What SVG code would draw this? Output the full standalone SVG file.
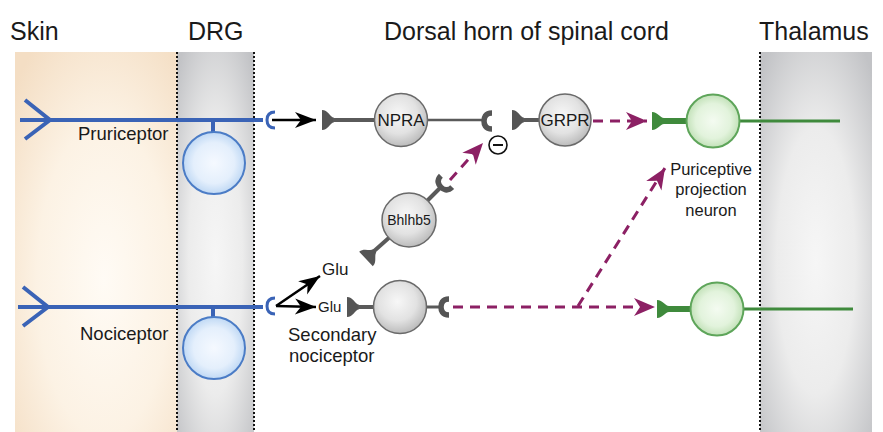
<svg xmlns="http://www.w3.org/2000/svg" width="883" height="432" viewBox="0 0 883 432">
<style>
text{font-family:"Liberation Sans",Arial,sans-serif;fill:#1a1a1a}
.hdr{font-size:25px}
.lbl{font-size:18.5px}
.in{font-size:17px;text-anchor:middle}
.dot{stroke:#111;stroke-width:2;stroke-dasharray:2 2;fill:none}
.ax{stroke:#3a63b6;stroke-width:4;fill:none}
.gl{stroke:#5a5a5a;fill:none}
.pd{stroke:#8c2064;stroke-width:3;stroke-dasharray:10 7;fill:none}
.gr{stroke:#3f8a3c;fill:none}
.cupg{stroke:#555;stroke-width:5.5;fill:none}
.cupb{stroke:#3a63b6;stroke-width:3;fill:none}
.gn{fill:url(#gGray);stroke:#6a6a6a;stroke-width:1.5}
.bn{fill:url(#gBlue);stroke:#4b7cc6;stroke-width:2}
.grn{fill:url(#gGreen);stroke:#5ea55a;stroke-width:2}
</style>
<defs>
<radialGradient id="gSkin" cx="55%" cy="60%" r="75%">
<stop offset="0" stop-color="#fffbf5"/><stop offset="0.55" stop-color="#fcf2e4"/><stop offset="1" stop-color="#f4dec4"/>
</radialGradient>
<radialGradient id="gPanel" cx="50%" cy="55%" r="70%" fx="50%" fy="55%">
<stop offset="0" stop-color="#f6f6f6"/><stop offset="0.5" stop-color="#ececec"/><stop offset="1" stop-color="#c2c3c6"/>
</radialGradient>
<radialGradient id="gGray" cx="45%" cy="40%" r="60%">
<stop offset="0" stop-color="#f7f7f7"/><stop offset="0.6" stop-color="#e2e2e2"/><stop offset="1" stop-color="#bcbcbc"/>
</radialGradient>
<radialGradient id="gBlue" cx="50%" cy="50%" r="55%">
<stop offset="0" stop-color="#f5f9ff"/><stop offset="0.6" stop-color="#e4effc"/><stop offset="1" stop-color="#b5d2f2"/>
</radialGradient>
<radialGradient id="gGreen" cx="50%" cy="50%" r="55%">
<stop offset="0" stop-color="#f4fbf1"/><stop offset="0.6" stop-color="#e2f3dc"/><stop offset="1" stop-color="#b9dcae"/>
</radialGradient>
<marker id="mBlk" markerUnits="userSpaceOnUse" markerWidth="24" markerHeight="20" viewBox="-21 -10 22 20" refX="0" refY="0" orient="auto">
<path d="M0,0 L-21,-8 L-15,0 L-21,8 Z" fill="#000"/>
</marker>
<marker id="mPur" markerUnits="userSpaceOnUse" markerWidth="24" markerHeight="22" viewBox="-21 -11 22 22" refX="0" refY="0" orient="auto">
<path d="M0,0 L-21,-9 L-15,0 L-21,9 Z" fill="#8c2064"/>
</marker>
<path id="dG" d="M0,-10 C6,-10 8,-3 12,-2.2 L12,2.2 C8,3 6,10 0,10 Z" fill="#555"/>
<path id="dGr" d="M0,-9 C6,-9 8,-3 12,-3 L12,3 C8,3 6,9 0,9 Z" fill="#3f8a3c"/>
<path id="cup" d="M5,-8 C-2,-8 -3,-3 -3,0 C-3,3 -2,8 5,8"/>
</defs>

<g id="regions">
<rect x="15" y="52" width="162" height="380" fill="url(#gSkin)"/>
<rect x="177" y="52" width="77" height="380" fill="url(#gPanel)"/>
<rect x="760" y="52" width="112" height="380" fill="url(#gPanel)"/>
<line class="dot" x1="177" y1="52" x2="177" y2="432"/>
<line class="dot" x1="254" y1="52" x2="254" y2="432"/>
<line class="dot" x1="760" y1="52" x2="760" y2="432"/>
</g>

<g id="headers">
<text class="hdr" x="10" y="40">Skin</text>
<text class="hdr" x="188" y="40">DRG</text>
<text class="hdr" x="384" y="40">Dorsal horn of spinal cord</text>
<text class="hdr" x="759" y="40">Thalamus</text>
</g>

<g id="pruriceptor">
<line class="ax" x1="20" y1="120" x2="263" y2="120"/>
<polyline class="ax" points="25,100 50,120 25,139"/>
<line class="ax" x1="213" y1="120" x2="213" y2="132" stroke-width="2.5"/>
<circle class="bn" cx="214" cy="163" r="31"/>
<use href="#cup" class="cupb" x="270" y="120"/>
<text class="lbl" x="78" y="140">Pruriceptor</text>
</g>

<g id="nociceptor">
<line class="ax" x1="18" y1="307" x2="263" y2="307"/>
<polyline class="ax" points="23,287 48,307 23,326"/>
<line class="ax" x1="213" y1="307" x2="213" y2="317" stroke-width="2.5"/>
<circle class="bn" cx="214" cy="348" r="31"/>
<use href="#cup" class="cupb" x="270" y="306"/>
<text class="lbl" x="80" y="340">Nociceptor</text>
</g>

<g id="npra">
<use href="#dG" x="322" y="120"/>
<line class="gl" x1="333" y1="120" x2="375" y2="120" stroke-width="4"/>
<line class="gl" x1="427" y1="120" x2="486" y2="120" stroke-width="2.5"/>
<circle class="gn" cx="401" cy="120" r="26.5"/>
<text class="in" x="401" y="126">NPRA</text>
<use href="#cup" class="cupg" x="487" y="121"/>
</g>

<g id="inhibit">
<circle cx="498" cy="145" r="9" fill="#fff" stroke="#111" stroke-width="1.6"/>
<line x1="493" y1="145" x2="503" y2="145" stroke="#111" stroke-width="2"/>
</g>

<g id="grpr">
<use href="#dG" x="512" y="120"/>
<line class="gl" x1="523" y1="120" x2="540" y2="120" stroke-width="4"/>
<circle class="gn" cx="565" cy="120" r="26"/>
<text class="in" x="565" y="126">GRPR</text>
</g>

<g id="bhlhb5">
<line class="gl" x1="373" y1="252" x2="391" y2="236" stroke-width="4"/>
<line class="gl" x1="427" y1="201" x2="441" y2="187" stroke-width="4"/>
<use href="#dG" transform="translate(366,259) rotate(-43)"/>
<circle class="gn" cx="409" cy="220" r="27"/>
<text x="409" y="225" style="font-size:14px;text-anchor:middle">Bhlhb5</text>
<use href="#cup" class="cupg" transform="translate(443,185) rotate(-45)"/>
</g>

<g id="secondary">
<use href="#dG" x="347" y="307"/>
<line class="gl" x1="358" y1="307" x2="374" y2="307" stroke-width="4"/>
<line class="gl" x1="426" y1="307" x2="442" y2="307" stroke-width="3"/>
<circle class="gn" cx="400" cy="307" r="26.5"/>
<use href="#cup" class="cupg" x="444" y="307"/>
<text class="lbl" x="288" y="341">Secondary</text>
<text class="lbl" x="289" y="362">nociceptor</text>
</g>

<g id="glu">
<text x="322" y="275" style="font-size:17px">Glu</text>
<text x="318" y="312" style="font-size:15px">Glu</text>
</g>

<g id="proj1">
<use href="#dGr" x="652" y="121"/>
<line class="gr" x1="662" y1="121" x2="687" y2="121" stroke-width="6"/>
<line class="gr" x1="739" y1="121" x2="840" y2="121" stroke-width="3"/>
<circle class="grn" cx="713" cy="121" r="26.5"/>
<text x="711" y="175" style="font-size:16.5px;text-anchor:middle">Puriceptive</text>
<text x="711" y="195" style="font-size:16.5px;text-anchor:middle">projection</text>
<text x="711" y="216" style="font-size:16.5px;text-anchor:middle">neuron</text>
</g>

<g id="proj2">
<use href="#dGr" x="657" y="309"/>
<line class="gr" x1="667" y1="309" x2="691" y2="309" stroke-width="6"/>
<line class="gr" x1="743" y1="309" x2="853" y2="309" stroke-width="3"/>
<circle class="grn" cx="717" cy="309" r="26.5"/>
</g>

<g id="connectors">
<line x1="272" y1="120" x2="316" y2="120" stroke="#000" stroke-width="2.5" marker-end="url(#mBlk)"/>
<line x1="276" y1="306" x2="320" y2="276" stroke="#000" stroke-width="2.5" marker-end="url(#mBlk)"/>
<line x1="276" y1="306" x2="316" y2="307" stroke="#000" stroke-width="2.5" marker-end="url(#mBlk)"/>
<line class="pd" x1="593" y1="121" x2="647" y2="121" marker-end="url(#mPur)"/>
<line class="pd" x1="450" y1="180" x2="483" y2="143" marker-end="url(#mPur)"/>
<line class="pd" x1="453" y1="307" x2="655" y2="307" marker-end="url(#mPur)"/>
<line class="pd" x1="578" y1="306" x2="665" y2="168" marker-end="url(#mPur)"/>
</g>
</svg>
